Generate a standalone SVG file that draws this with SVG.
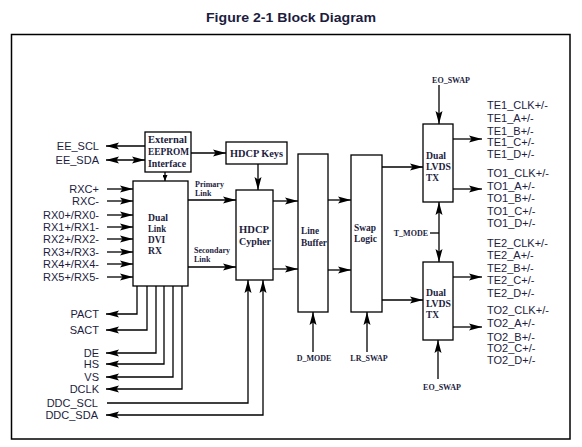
<svg xmlns="http://www.w3.org/2000/svg" width="582" height="447" viewBox="0 0 582 447">
<style>
.box{fill:#fff;stroke:#000;stroke-width:1.3}
.ln{fill:none;stroke:#000;stroke-width:1.3}
.a{marker-end:url(#ah)}
.b{marker-start:url(#ah);marker-end:url(#ah)}
.lbl{font-family:"Liberation Sans",Arial,sans-serif;font-size:11px;fill:#1c1c3e}
.r{text-anchor:end}
.bx{font-family:"Liberation Serif","Times New Roman",serif;font-weight:bold;font-size:11px;fill:#1c1c3e}
.sm{font-family:"Liberation Serif","Times New Roman",serif;font-weight:bold;font-size:8px;fill:#1c1c3e}
.mid{text-anchor:middle}
</style>
<defs>
<marker id="ah" markerWidth="13" markerHeight="8" refX="13" refY="4" orient="auto-start-reverse" markerUnits="userSpaceOnUse"><path d="M0,0.5 L13,4 L0,7.5 L2.5,4 z" fill="#000"/></marker>
<marker id="as" markerWidth="6" markerHeight="5" refX="6" refY="2.5" orient="auto" markerUnits="userSpaceOnUse"><path d="M0,0 L6,2.5 L0,5 z" fill="#000"/></marker>
</defs>
<rect width="582" height="447" fill="#fff"/>
<text x="291" y="22" text-anchor="middle" font-family="Liberation Sans,Arial,sans-serif" font-weight="bold" font-size="12" fill="#1c1c3e" textLength="170" lengthAdjust="spacingAndGlyphs">Figure 2-1  Block Diagram</text>
<rect x="11.5" y="34.5" width="558.5" height="404.5" fill="none" stroke="#000" stroke-width="1.5"/>

<g id="connectors">
<path class="ln a" d="M145,146 H106"/>
<path class="ln b" d="M106,160 H145"/>
<path class="ln" d="M165,172 V181" marker-end="url(#as)"/>
<path class="ln a" d="M191,153 H226"/>
<path class="ln a" d="M107,189 H133"/>
<path class="ln a" d="M107,201 H133"/>
<path class="ln a" d="M107,215 H133"/>
<path class="ln a" d="M107,227 H133"/>
<path class="ln a" d="M107,239 H133"/>
<path class="ln a" d="M107,252 H133"/>
<path class="ln a" d="M107,264 H133"/>
<path class="ln a" d="M107,277 H133"/>
<path class="ln a" d="M188,200 H236"/>
<path class="ln a" d="M188,267 H236"/>
<path class="ln a" d="M258,164 V190"/>
<path class="ln a" d="M273,201 H298"/>
<path class="ln a" d="M273,269 H298"/>
<path class="ln a" d="M328,200 H351"/>
<path class="ln a" d="M328,270 H351"/>
<path class="ln a" d="M382,167 H423"/>
<path class="ln a" d="M382,300 H423"/>
<path class="ln a" d="M439,85 V124"/>
<path class="ln" d="M430,233 H439"/>
<path class="ln a" d="M439,233 V202"/>
<path class="ln a" d="M439,233 V262"/>
<path class="ln a" d="M453,139 H482"/>
<path class="ln a" d="M453,189 H482"/>
<path class="ln a" d="M453,277 H482"/>
<path class="ln a" d="M453,327 H482"/>
<path class="ln a" d="M438,379 V340"/>
<path class="ln a" d="M313,352 V312"/>
<path class="ln a" d="M367,352 V312"/>
<path class="ln a" d="M137,286 V314 H106"/>
<path class="ln a" d="M147,286 V330 H106"/>
<path class="ln a" d="M156,286 V353 H106"/>
<path class="ln a" d="M164,286 V364 H106"/>
<path class="ln a" d="M173,286 V377 H106"/>
<path class="ln a" d="M182,286 V389 H106"/>
<path class="ln a" d="M107,403 H248 V280"/>
<path class="ln b" d="M106,415 H263 V280"/>
</g>

<g id="eeprom">
<rect class="box" x="145" y="132" width="46" height="40"/>
<text class="bx" x="148" y="143" textLength="39" lengthAdjust="spacingAndGlyphs">External</text>
<text class="bx" x="148" y="155" textLength="41" lengthAdjust="spacingAndGlyphs">EEPROM</text>
<text class="bx" x="148" y="167" textLength="38" lengthAdjust="spacingAndGlyphs">Interface</text>
</g>
<g id="hdcp-keys">
<rect class="box" x="226" y="142" width="61" height="22"/>
<text class="bx mid" x="256.5" y="157" font-size="12" textLength="53" lengthAdjust="spacingAndGlyphs">HDCP Keys</text>
</g>
<g id="dual-link-rx">
<rect class="box" x="133" y="181" width="55" height="105"/>
<text class="bx" x="148" y="221" textLength="20" lengthAdjust="spacingAndGlyphs">Dual</text>
<text class="bx" x="148" y="232" textLength="18" lengthAdjust="spacingAndGlyphs">Link</text>
<text class="bx" x="148" y="243" textLength="17" lengthAdjust="spacingAndGlyphs">DVI</text>
<text class="bx" x="148" y="254" textLength="14" lengthAdjust="spacingAndGlyphs">RX</text>
</g>
<g id="hdcp-cypher">
<rect class="box" x="236" y="190" width="37" height="90"/>
<text class="bx" x="239" y="233" font-size="12" textLength="30" lengthAdjust="spacingAndGlyphs">HDCP</text>
<text class="bx" x="239" y="245" font-size="12" textLength="32" lengthAdjust="spacingAndGlyphs">Cypher</text>
</g>
<g id="line-buffer">
<rect class="box" x="298" y="154" width="30" height="158"/>
<text class="bx" x="301" y="234" font-size="12" textLength="18" lengthAdjust="spacingAndGlyphs">Line</text>
<text class="bx" x="301" y="246" font-size="12" textLength="26" lengthAdjust="spacingAndGlyphs">Buffer</text>
</g>
<g id="swap-logic">
<rect class="box" x="351" y="155" width="31" height="157"/>
<text class="bx" x="354" y="231" textLength="22" lengthAdjust="spacingAndGlyphs">Swap</text>
<text class="bx" x="354" y="242" textLength="23" lengthAdjust="spacingAndGlyphs">Logic</text>
</g>
<g id="lvds-tx-1">
<rect class="box" x="423" y="124" width="30" height="78"/>
<text class="bx" x="426" y="158.5" textLength="20" lengthAdjust="spacingAndGlyphs">Dual</text>
<text class="bx" x="426" y="170" textLength="25" lengthAdjust="spacingAndGlyphs">LVDS</text>
<text class="bx" x="426" y="181" textLength="13" lengthAdjust="spacingAndGlyphs">TX</text>
</g>
<g id="lvds-tx-2">
<rect class="box" x="423" y="262" width="30" height="78"/>
<text class="bx" x="426" y="296" textLength="20" lengthAdjust="spacingAndGlyphs">Dual</text>
<text class="bx" x="426" y="307" textLength="25" lengthAdjust="spacingAndGlyphs">LVDS</text>
<text class="bx" x="426" y="318" textLength="13" lengthAdjust="spacingAndGlyphs">TX</text>
</g>

<g id="link-labels">
<text class="sm" x="195" y="187">Primary</text>
<text class="sm" x="195" y="196">Link</text>
<text class="sm" x="194" y="253">Secondary</text>
<text class="sm" x="194" y="262">Link</text>
<text class="sm mid" x="451" y="83">EO_SWAP</text>
<text class="sm" x="428" y="236" text-anchor="end">T_MODE</text>
<text class="sm mid" x="314" y="361">D_MODE</text>
<text class="sm mid" x="369" y="361">LR_SWAP</text>
<text class="sm mid" x="442" y="390">EO_SWAP</text>
</g>

<g id="left-signals">
<text class="lbl r" x="99" y="150">EE_SCL</text>
<text class="lbl r" x="99" y="164">EE_SDA</text>
<text class="lbl r" x="99" y="193">RXC+</text>
<text class="lbl r" x="99" y="205">RXC-</text>
<text class="lbl r" x="99" y="219">RX0+/RX0-</text>
<text class="lbl r" x="99" y="231">RX1+/RX1-</text>
<text class="lbl r" x="99" y="243">RX2+/RX2-</text>
<text class="lbl r" x="99" y="256">RX3+/RX3-</text>
<text class="lbl r" x="99" y="268">RX4+/RX4-</text>
<text class="lbl r" x="99" y="281">RX5+/RX5-</text>
<text class="lbl r" x="99" y="318">PACT</text>
<text class="lbl r" x="99" y="334">SACT</text>
<text class="lbl r" x="99" y="357">DE</text>
<text class="lbl r" x="99" y="368">HS</text>
<text class="lbl r" x="99" y="381">VS</text>
<text class="lbl r" x="99" y="393">DCLK</text>
<text class="lbl r" x="98" y="407">DDC_SCL</text>
<text class="lbl r" x="98" y="419">DDC_SDA</text>
</g>

<g id="right-signals">
<text class="lbl" x="487" y="109">TE1_CLK+/-</text>
<text class="lbl" x="487" y="121.5">TE1_A+/-</text>
<text class="lbl" x="487" y="134.5">TE1_B+/-</text>
<text class="lbl" x="487" y="146">TE1_C+/-</text>
<text class="lbl" x="487" y="158">TE1_D+/-</text>
<text class="lbl" x="487" y="177">TO1_CLK+/-</text>
<text class="lbl" x="487" y="190">TO1_A+/-</text>
<text class="lbl" x="487" y="202">TO1_B+/-</text>
<text class="lbl" x="487" y="214.5">TO1_C+/-</text>
<text class="lbl" x="487" y="227">TO1_D+/-</text>
<text class="lbl" x="487" y="247">TE2_CLK+/-</text>
<text class="lbl" x="487" y="259">TE2_A+/-</text>
<text class="lbl" x="487" y="271.5">TE2_B+/-</text>
<text class="lbl" x="487" y="284">TE2_C+/-</text>
<text class="lbl" x="487" y="296.5">TE2_D+/-</text>
<text class="lbl" x="487" y="314">TO2_CLK+/-</text>
<text class="lbl" x="487" y="327">TO2_A+/-</text>
<text class="lbl" x="487" y="340.5">TO2_B+/-</text>
<text class="lbl" x="487" y="352">TO2_C+/-</text>
<text class="lbl" x="487" y="364">TO2_D+/-</text>
</g>
</svg>
